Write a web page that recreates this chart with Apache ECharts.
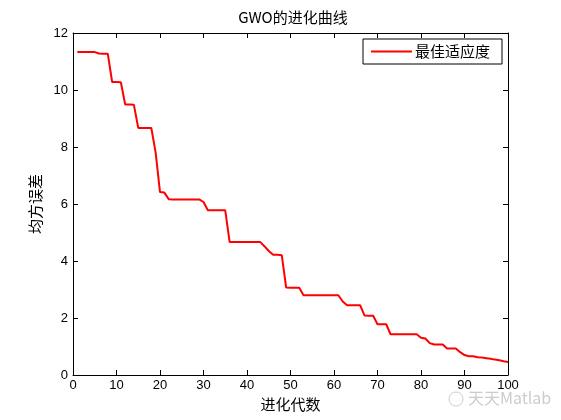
<!DOCTYPE html>
<html>
<head>
<meta charset="utf-8">
<script src="https://cdn.jsdelivr.net/npm/echarts@6/dist/echarts.min.js"></script>
<style>html,body{margin:0;padding:0;background:#fff;}#c{width:561px;height:420px;}</style>
</head>
<body>
<div id="c"></div>
<script>
const generations = Array.from({length: 100}, (_, i) => i + 1);
const bestFitness = [
  11.33, 11.33, 11.33, 11.33, 11.33, 11.28, 11.27, 11.27, 10.28, 10.28,
  10.27, 9.49, 9.49, 9.48, 8.67, 8.67, 8.67, 8.67, 7.80, 6.42,
  6.40, 6.17, 6.16, 6.16, 6.16, 6.16, 6.16, 6.16, 6.16, 6.07,
  5.78, 5.78, 5.78, 5.78, 5.78, 4.67, 4.67, 4.67, 4.67, 4.67,
  4.67, 4.67, 4.67, 4.52, 4.35, 4.22, 4.22, 4.20, 3.07, 3.06,
  3.06, 3.06, 2.80, 2.80, 2.80, 2.80, 2.80, 2.80, 2.80, 2.80,
  2.80, 2.58, 2.45, 2.45, 2.45, 2.45, 2.09, 2.08, 2.08, 1.78,
  1.78, 1.78, 1.43, 1.43, 1.43, 1.43, 1.43, 1.43, 1.43, 1.31,
  1.28, 1.12, 1.07, 1.07, 1.07, 0.93, 0.93, 0.93, 0.80, 0.70,
  0.66, 0.66, 0.62, 0.61, 0.59, 0.57, 0.54, 0.52, 0.48, 0.46
];
const titleText = 'GWO的进化曲线';
const xName = '进化代数';
const yName = '均方误差';
const seriesName = '最佳适应度';

const chart = echarts.init(document.getElementById('c'));
const latin = 'Liberation Sans, Arial, sans-serif';
const cjk = '"Noto Sans CJK SC", sans-serif';
const axisCommon = {
  axisLine: {show: true, onZero: false, lineStyle: {color: '#000', width: 1}},
  axisTick: {show: true, inside: true, length: 5, lineStyle: {color: '#000'}},
  splitLine: {show: false}
};
chart.setOption({
  backgroundColor: '#fff',
  animation: false,
  title: {
    text: titleText, left: 288, top: 5, textAlign: 'center',
    textStyle: {fontFamily: cjk, fontSize: 15, fontWeight: 'normal', color: '#000'}
  },
  legend: {
    data: [seriesName], left: 363, top: 39,
    icon: 'rect', itemWidth: 41, itemHeight: 2, itemGap: 4,
    borderColor: '#000', borderWidth: 1, borderRadius: 0,
    backgroundColor: '#fff', padding: [5, 12, 5, 8],
    textStyle: {fontFamily: cjk, fontSize: 15, color: '#000', padding: [0, 0, 0, -2]}
  },
  grid: {left: 73, right: 53, top: 33, bottom: 45, containLabel: false},
  xAxis: [
    Object.assign({type: 'value', min: 0, max: 100, interval: 10, position: 'bottom',
      name: xName, nameLocation: 'middle', nameGap: 22,
      nameTextStyle: {fontFamily: cjk, fontSize: 15, color: '#000'},
      axisLabel: {color: '#000', fontFamily: latin, fontSize: 13, margin: 4}}, axisCommon),
    Object.assign({type: 'value', min: 0, max: 100, interval: 10, position: 'top',
      axisLabel: {show: false}}, axisCommon)
  ],
  yAxis: [
    Object.assign({type: 'value', min: 0, max: 12, interval: 2, position: 'left',
      name: yName, nameLocation: 'middle', nameGap: 29,
      nameTextStyle: {fontFamily: cjk, fontSize: 15, color: '#000'},
      axisLabel: {color: '#000', fontFamily: latin, fontSize: 13, margin: 5}}, axisCommon),
    Object.assign({type: 'value', min: 0, max: 12, interval: 2, position: 'right',
      axisLabel: {show: false}}, axisCommon)
  ],
  series: [{
    name: seriesName, type: 'line', xAxisIndex: 0, yAxisIndex: 0,
    data: generations.map((g, i) => [g, bestFitness[i]]),
    showSymbol: false, symbol: 'none',
    lineStyle: {color: '#ff0000', width: 2},
    itemStyle: {color: '#ff0000'}
  }],
  graphic: [{
    type: 'text', left: 468, top: 390,
    style: {text: '天天Matlab', fill: 'rgba(170,170,170,0.6)', font: '16px "Noto Sans CJK SC", sans-serif'}
  }, {
    type: 'circle', shape: {cx: 456, cy: 399, r: 7},
    style: {fill: 'none', stroke: 'rgba(170,170,170,0.6)', lineWidth: 1}
  }]
});
</script>
</body>
</html>
